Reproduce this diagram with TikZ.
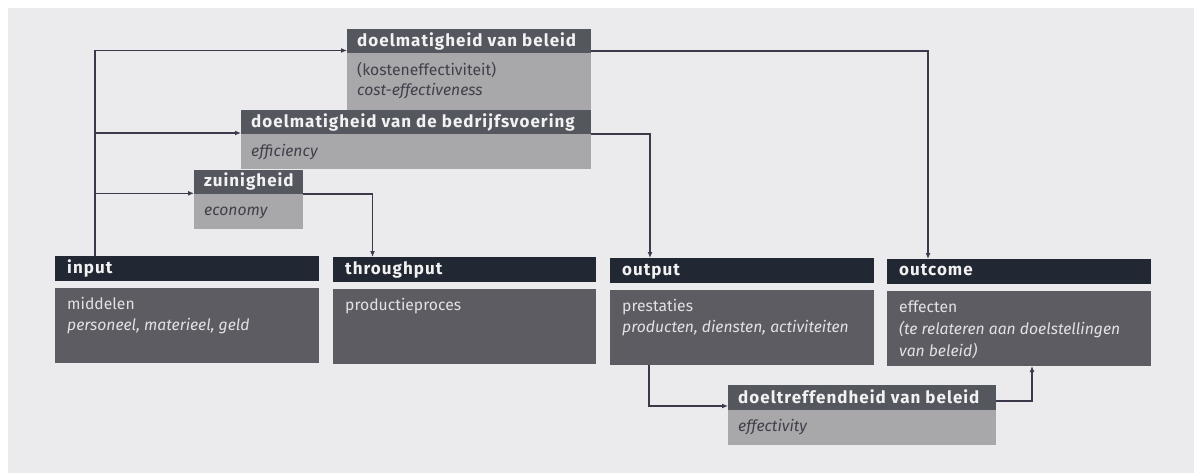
\documentclass[tikz,border=0pt]{standalone}
\usepackage{fontspec}
\setmainfont{Fira Sans}
\newfontfamily\headfont{Fira Sans}[LetterSpace=6]
\usetikzlibrary{calc,arrows.meta}

\definecolor{pagebg}{HTML}{EBEBED}
\definecolor{tophead}{HTML}{55575F}
\definecolor{topbody}{HTML}{A8A8AB}
\definecolor{bothead}{HTML}{222833}
\definecolor{botbody}{HTML}{5C5C62}
\definecolor{wire}{HTML}{3C3A4A}
\definecolor{lighttxt}{HTML}{F2F2F2}
\definecolor{darktxt}{HTML}{40404A}
\definecolor{softtxt}{HTML}{E2E2E4}

\tikzset{
  panel/.style={anchor=north west, inner sep=0pt, outer sep=0pt},
  tophd/.style={panel, fill=tophead},
  topbd/.style={panel, fill=topbody},
  bothd/.style={panel, fill=bothead},
  botbd/.style={panel, fill=botbody},
  title/.style={anchor=base west, inner sep=0pt, text=lighttxt,
    font=\headfont\fontsize{17}{20}\selectfont\bfseries},
  darkline/.style={anchor=base west, inner sep=0pt, text=darktxt,
    font=\fontsize{15.7}{19}\selectfont},
  lightline/.style={anchor=base west, inner sep=0pt, text=softtxt,
    font=\fontsize{15.7}{19}\selectfont},
  wire/.style={draw=wire, line width=1.2pt},
  flow/.style={wire, -{Latex[length=6pt,width=5pt]}},
}

\begin{document}
\begin{tikzpicture}[x=1pt, y=-1pt]
  % page
  \fill[white] (0,0) rectangle (1194,473);
  \fill[pagebg] (8,8) rectangle (1194,473);

  % doelmatigheid van beleid
  \node[tophd, minimum width=244pt, minimum height=24pt] (b1h) at (347,29.5) {};
  \node[topbd, minimum width=244pt, minimum height=57pt] (b1b) at (b1h.south west) {};
  \node[title] (b1t) at ($(b1h.south west)+(10,-7)$) {doelmatigheid van beleid};
  \node[darkline] (b1a) at ($(b1b.north west)+(10,21.7)$) {(kosteneffectiviteit)};
  \node[darkline] (b1c) at ($(b1b.north west)+(10,42.2)$) {\itshape cost-effectiveness};

  % doelmatigheid van de bedrijfsvoering
  \node[tophd, minimum width=350pt, minimum height=24pt] (b2h) at (241,110.5) {};
  \node[topbd, minimum width=350pt, minimum height=35pt] (b2b) at (b2h.south west) {};
  \node[title] (b2t) at ($(b2h.south west)+(10,-7)$) {doelmatigheid van de bedrijfsvoering};
  \node[darkline] (b2a) at ($(b2b.north west)+(10,21.7)$) {\itshape efficiency};

  % zuinigheid
  \node[tophd, minimum width=109pt, minimum height=24pt] (b3h) at (194,170) {};
  \node[topbd, minimum width=109pt, minimum height=35pt] (b3b) at (b3h.south west) {};
  \node[title] (b3t) at ($(b3h.south west)+(10,-7)$) {zuinigheid};
  \node[darkline] (b3a) at ($(b3b.north west)+(10,21.7)$) {\itshape economy};

  % input
  \node[bothd, minimum width=264pt, minimum height=25pt] (inh) at (55,256) {};
  \node[botbd, minimum width=264pt, minimum height=75pt] (inb) at ($(inh.south west)+(0,7)$) {};
  \node[title] (int) at ($(inh.south west)+(12,-8)$) {input};
  \node[lightline] (ina) at ($(inb.north west)+(12,21.7)$) {middelen};
  \node[lightline] (inc) at ($(inb.north west)+(12,42.4)$) {\itshape personeel, materieel, geld};

  % throughput
  \node[bothd, minimum width=263pt, minimum height=25pt] (thh) at (333,257) {};
  \node[botbd, minimum width=263pt, minimum height=75pt] (thb) at ($(thh.south west)+(0,7)$) {};
  \node[title] (tht) at ($(thh.south west)+(12,-8)$) {throughput};
  \node[lightline] (tha) at ($(thb.north west)+(12,21.7)$) {productieproces};

  % output
  \node[bothd, minimum width=264pt, minimum height=25pt] (ouh) at (610,258) {};
  \node[botbd, minimum width=264pt, minimum height=75pt] (oub) at ($(ouh.south west)+(0,7)$) {};
  \node[title] (out) at ($(ouh.south west)+(12,-8)$) {output};
  \node[lightline] (oua) at ($(oub.north west)+(12,21.7)$) {prestaties};
  \node[lightline] (ouc) at ($(oub.north west)+(12,42.4)$) {\itshape producten, diensten, activiteiten};

  % outcome
  \node[bothd, minimum width=264pt, minimum height=25pt] (och) at (887,259) {};
  \node[botbd, minimum width=264pt, minimum height=75pt] (ocb) at ($(och.south west)+(0,7)$) {};
  \node[title] (oct) at ($(och.south west)+(12,-8)$) {outcome};
  \node[lightline] (oca) at ($(ocb.north west)+(12,21.7)$) {effecten};
  \node[lightline] (occ) at ($(ocb.north west)+(12,43.3)$) {\itshape (te relateren aan doelstellingen};
  \node[lightline] (ocd) at ($(ocb.north west)+(12,65)$) {\itshape van beleid)};

  % doeltreffendheid van beleid
  \node[tophd, minimum width=268pt, minimum height=25pt] (dth) at (728,385) {};
  \node[topbd, minimum width=268pt, minimum height=35pt] (dtb) at (dth.south west) {};
  \node[title] (dtt) at ($(dth.south west)+(10,-7)$) {doeltreffendheid van beleid};
  \node[darkline] (dta) at ($(dtb.north west)+(10,21)$) {\itshape effectivity};

  % connectors
  \coordinate (trunk) at ($(inh.north west)+(40,0)$);
  \draw[flow] (trunk) |- ($(b1h.south west)+(0,-3)$);
  \draw[flow] (trunk) |- ($(b2h.south west)+(0,-1.5)$);
  \draw[flow] (trunk) |- ($(b3h.south west)+(0,-0.7)$);

  \draw[flow] ($(b1h.south east)+(0,-2.5)$) -| ($(och.north west)+(41,0)$);
  \draw[flow] ($(b2h.south east)+(0,-0.5)$) -| ($(ouh.north west)+(40,0)$);
  \draw[flow] ($(b3h.south east)+(0,0)$) -| ($(thh.north west)+(39.5,0)$);

  \draw[flow] ($(oub.south west)+(39,0)$) |- ($(dth.south west)+(0,-4)$);
  \draw[flow] ($(dth.south east)+(0,-9)$) -| ($(ocb.south west)+(145,0)$);
\end{tikzpicture}
\end{document}
